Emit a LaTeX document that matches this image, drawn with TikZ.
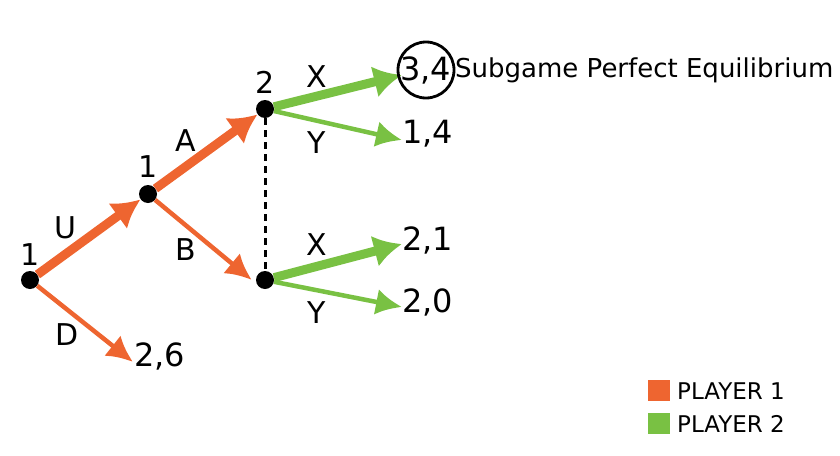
\documentclass[tikz,border=0pt]{standalone}
\usepackage{fontspec}
\setmainfont{DejaVu Sans}
\usetikzlibrary{arrows.meta}
\definecolor{pone}{HTML}{EE6530}
\definecolor{ptwo}{HTML}{79C143}
\begin{document}
\begin{tikzpicture}[x=1pt,y=-1pt,
  dot/.style={circle,fill=black,inner sep=0pt,minimum size=18pt},
  thick1/.style={line width=9pt,-{Latex[length=28pt,width=32pt]}},
  thin1/.style={line width=4.5pt,-{Latex[length=26pt,width=26pt]}},
  lbl/.style={font=\fontsize{30}{32}\selectfont,inner sep=0pt},
  pay/.style={font=\fontsize{32}{34}\selectfont,inner sep=0pt,anchor=west}]
\useasboundingbox (0,0) rectangle (840,455);
\node[dot] (a) at (30,280) {};
\node[dot] (b) at (148,194) {};
\node[dot] (c) at (265,109) {};
\node[dot] (d) at (265,280) {};
\node[lbl] at (30,255) {1};
\node[lbl] at (148,167) {1};
\node[lbl] at (265,82) {2};
\coordinate (e6) at (133,362);
\coordinate (x1) at (402,75);
\coordinate (y1) at (402,140);
\coordinate (x2) at (402,244);
\coordinate (y2) at (402,307);
\draw[thick1,pone] (a) -- (b);
\draw[thin1,pone] (a) -- (e6);
\draw[thick1,pone] (b) -- (c);
\draw[thin1,pone] (b) -- ([xshift=-4pt]d.west);
\draw[thick1,ptwo] (c) -- (x1);
\draw[thin1,ptwo] (c) -- (y1);
\draw[thick1,ptwo] (d) -- (x2);
\draw[thin1,ptwo] (d) -- (y2);
\draw[line width=3pt,dash pattern=on 7pt off 5pt] (c) -- (d);
\node[lbl] at (65,228) {U};
\node[lbl] at (67,335) {D};
\node[lbl] at (186,141) {A};
\node[lbl] at (186,250) {B};
\node[lbl] at (317,77) {X};
\node[lbl] at (317,143) {Y};
\node[lbl] at (317,245) {X};
\node[lbl] at (317,313) {Y};
\node[pay] (p34) at (400,70) {3,4};
\draw[line width=2.8pt] (426,70) circle (28);
\node[font=\fontsize{26}{28}\selectfont,inner sep=0pt,anchor=west] at (455,70) {Subgame Perfect Equilibrium};
\node[pay] at (402,134) {1,4};
\node[pay] at (402,240) {2,1};
\node[pay] at (402,302) {2,0};
\node[pay] at (134,356) {2,6};
\fill[pone] (648,380) rectangle (670,401);
\fill[ptwo] (648,413) rectangle (670,434);
\node[font=\fontsize{23}{25}\selectfont,anchor=west,inner sep=0pt] at (677,391) {PLAYER 1};
\node[font=\fontsize{23}{25}\selectfont,anchor=west,inner sep=0pt] at (677,424) {PLAYER 2};
\end{tikzpicture}
\end{document}
